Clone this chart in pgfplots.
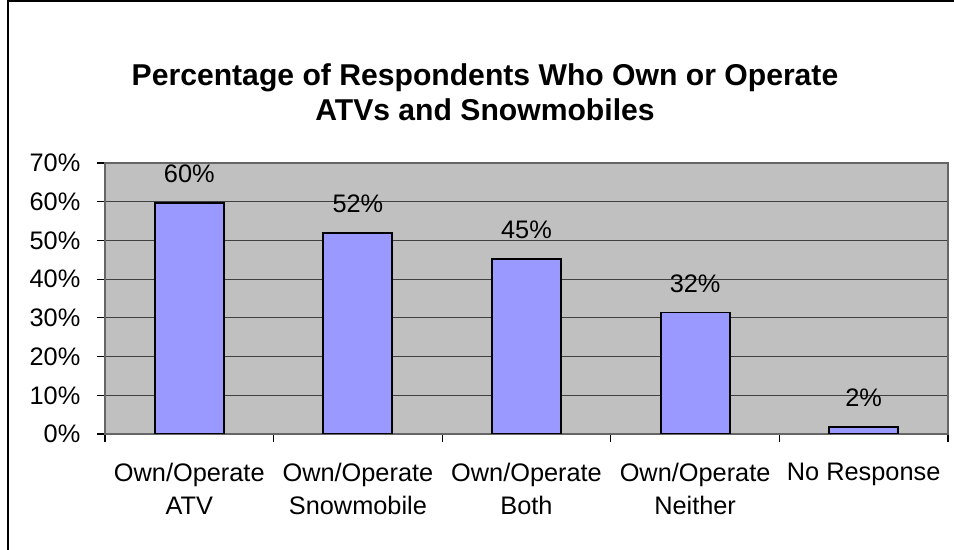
\documentclass[border=0pt]{standalone}
\usepackage{fontspec}
\setmainfont{Liberation Sans}
\usepackage{pgfplots}
\pgfplotsset{compat=1.18}

\definecolor{barblue}{HTML}{9999FF}
\definecolor{plotgray}{HTML}{C0C0C0}

% 1 px of the 954x550 reference = 0.75pt
\begin{document}
\begin{tikzpicture}
\path[use as bounding box] (0pt,0pt) rectangle (715.5pt,412.5pt);
% outer chart frame (left and top edges only are visible)
\draw[black, line width=1.2pt] (6pt,0pt) -- (6pt,411.75pt) -- (715.5pt,411.75pt);
\node[align=center, font=\fontsize{22.6}{26.5}\selectfont\bfseries]
  at (363.75pt,343.1pt) {Percentage of Respondents Who Own or Operate\\ATVs and Snowmobiles};

\begin{axis}[
    at={(78.75pt,87pt)}, anchor=south west,
    scale only axis,
    width=632.25pt, height=203.25pt,
    xmin=-0.5, xmax=4.5,
    ymin=0, ymax=70,
    axis background/.style={fill=plotgray},
    axis line style={draw=gray!80!black, line width=0.8pt},
    ytick={0,10,...,70},
    yticklabel={\pgfmathprintnumber{\tick}\%},
    ymajorgrids,
    major grid style={draw=black!75, line width=0.6pt},
    xtick={-0.5,0.5,...,4.5},
    x tick label as interval,
    xticklabels={{Own/Operate\\ATV},{Own/Operate\\Snowmobile},{Own/Operate\\Both},{Own/Operate\\Neither},{No Response}},
    xticklabel style={align=center, anchor=north, yshift=-12pt, font=\fontsize{19}{25}\selectfont},
    yticklabel style={font=\fontsize{19}{22}\selectfont, xshift=-9pt},
    /pgf/number format/assume math mode=true,
    tick align=outside,
    major tick length=6pt,
    tick style={black, line width=0.8pt},
    xtick pos=bottom, ytick pos=left,
    ybar, bar width=51.75pt,
    point meta=explicit symbolic,
    nodes near coords,
    nodes near coords style={font=\fontsize{19}{22}\selectfont, anchor=south, yshift=11pt},
]
\addplot[fill=barblue, draw=black, line width=1.4pt] coordinates {
    (0,59.7) [60\%]
    (1,52.0) [52\%]
    (2,45.3) [45\%]
    (3,31.4) [32\%]
    (4,1.9)  [2\%]
};
\end{axis}
\end{tikzpicture}
\end{document}
